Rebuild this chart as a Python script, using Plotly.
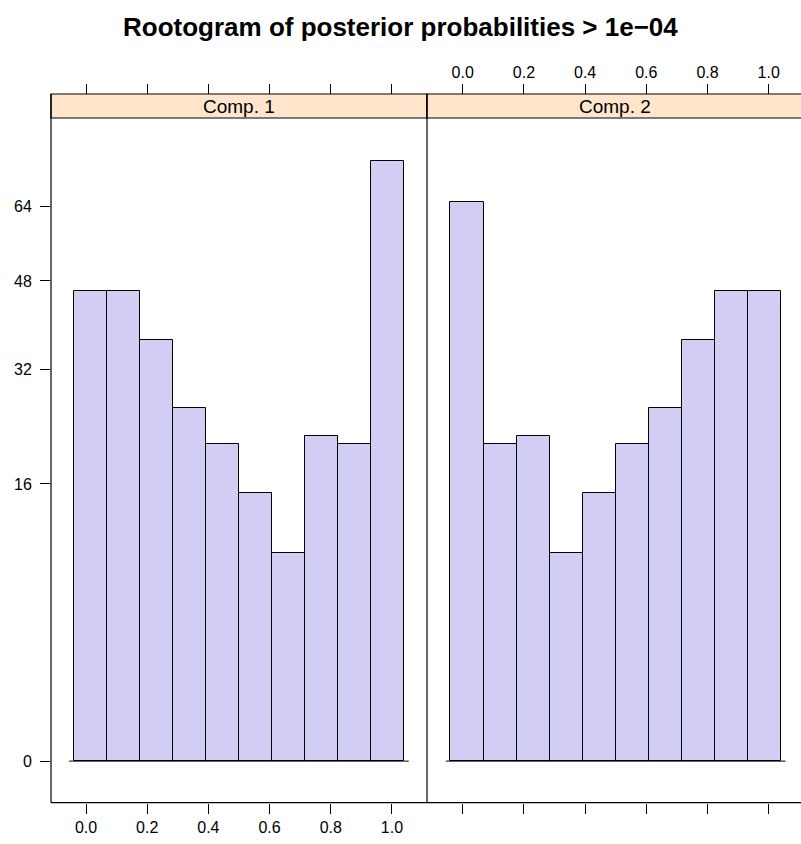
import plotly.graph_objects as go
import numpy as np

# ---- data ----
breaks = [-0.04, 0.068, 0.176, 0.284, 0.392, 0.5, 0.608, 0.716, 0.824, 0.932, 1.04]
counts_comp1 = [46, 46, 37, 26, 21, 15, 9, 22, 21, 75]
counts_comp2 = [65, 21, 22, 9, 15, 21, 26, 37, 46, 46]
panel_labels = ["Comp. 1", "Comp. 2"]
x_tick_vals = [0.0, 0.2, 0.4, 0.6, 0.8, 1.0]
x_tick_text = ["0.0", "0.2", "0.4", "0.6", "0.8", "1.0"]
y_tick_counts = [0, 16, 32, 48, 64]
title_text = "Rootogram of posterior probabilities > 1e\u221204"

W, H = 801, 844
FONT = "Liberation Sans, Arial, Helvetica, sans-serif"
FILL = "#d1cdf3"
STRIP = "#ffe5cc"

def px(x):
    return x / W

def py(y):
    return 1 - y / H

# panel geometry (pixels)
left, mid, right = 51, 427, 801
top_plot, bottom_plot, strip_top = 118, 802.7, 94

edges = np.array(breaks)
centers = (edges[:-1] + edges[1:]) / 2
widths = np.diff(edges)

fig = go.Figure()
for i, (counts, xa) in enumerate([(counts_comp1, "x"), (counts_comp2, "x2")]):
    fig.add_trace(go.Bar(
        x=centers, y=np.sqrt(counts), width=widths,
        marker=dict(color=FILL, line=dict(color="black", width=1)),
        xaxis=xa, yaxis="y", showlegend=False, hoverinfo="skip"))
    fig.add_trace(go.Scatter(
        x=[edges[0] - 0.015, edges[-1] + 0.015], y=[0, 0], mode="lines",
        line=dict(color="black", width=1), xaxis=xa, yaxis="y",
        showlegend=False, hoverinfo="skip"))

xr1 = [-0.1144, 1.1144]
xr2 = [-0.1167, -0.1167 + (right - mid) / 306.0]

ydom = [py(bottom_plot), py(top_plot)]
common_x = dict(ticks="outside", ticklen=10, tickcolor="black", tickwidth=1,
                tickvals=x_tick_vals, ticktext=x_tick_text, showgrid=False,
                zeroline=False, showline=False,
                tickfont=dict(family=FONT, size=16, color="black"))

fig.update_layout(
    width=W, height=H, margin=dict(l=0, r=0, t=0, b=0),
    paper_bgcolor="white", plot_bgcolor="white", bargap=0,
    xaxis=dict(domain=[px(left), px(mid)], range=xr1, anchor="y", **common_x),
    xaxis2=dict(domain=[px(mid), 1], range=xr2, anchor="y", showticklabels=False, **common_x),
    xaxis3=dict(domain=[px(mid), 1], range=xr2, anchor="free", overlaying="x2",
                side="top", position=py(strip_top), **common_x),
    xaxis4=dict(domain=[px(left), px(mid)], range=xr1, anchor="free", overlaying="x",
                side="top", position=py(strip_top), showticklabels=False, **common_x),
    yaxis=dict(domain=ydom, range=[-0.6, 9.28], anchor="x",
               tickvals=np.sqrt(y_tick_counts), ticktext=[str(v) for v in y_tick_counts],
               ticks="outside", ticklen=10, tickcolor="black", showgrid=False,
               zeroline=False, showline=False, ticklabelstandoff=5,
               tickfont=dict(family=FONT, size=16, color="black")),
)

# dummy traces to ensure top axes render
for xa in ["x3", "x4"]:
    fig.add_trace(go.Scatter(x=[None], y=[None], xaxis=xa, yaxis="y",
                             showlegend=False, hoverinfo="skip"))

shapes = []
# strips
for (x0, x1) in [(left, mid), (mid, right + 2)]:
    shapes.append(dict(type="rect", xref="paper", yref="paper",
                       x0=px(x0), x1=px(x1), y0=py(top_plot), y1=py(strip_top),
                       fillcolor=STRIP, line=dict(color="black", width=1.2), layer="below"))
# panel frames
lines = [
    (left, strip_top, left, bottom_plot),
    (left, bottom_plot, right + 2, bottom_plot),
    (mid, strip_top, mid, bottom_plot),
]
for x0, y0, x1, y1 in lines:
    shapes.append(dict(type="line", xref="paper", yref="paper",
                       x0=px(x0), y0=py(y0), x1=px(x1), y1=py(y1),
                       line=dict(color="black", width=1.2)))
fig.update_layout(shapes=shapes)

ann = [dict(text="<b>" + title_text + "</b>", x=0.5, y=py(27), xref="paper", yref="paper",
            showarrow=False, xanchor="center", yanchor="middle",
            font=dict(family=FONT, size=26, color="black"))]
for lab, (x0, x1) in zip(panel_labels, [(left, mid), (mid, right + 2)]):
    ann.append(dict(text=lab, x=px((x0 + x1) / 2), y=py((strip_top + top_plot) / 2),
                    xref="paper", yref="paper", showarrow=False,
                    xanchor="center", yanchor="middle",
                    font=dict(family=FONT, size=19, color="black")))
fig.update_layout(annotations=ann)

fig.write_html("out.html", config={"displayModeBar": False},
               post_script="document.body.style.margin='0px';document.body.style.overflow='hidden';")
